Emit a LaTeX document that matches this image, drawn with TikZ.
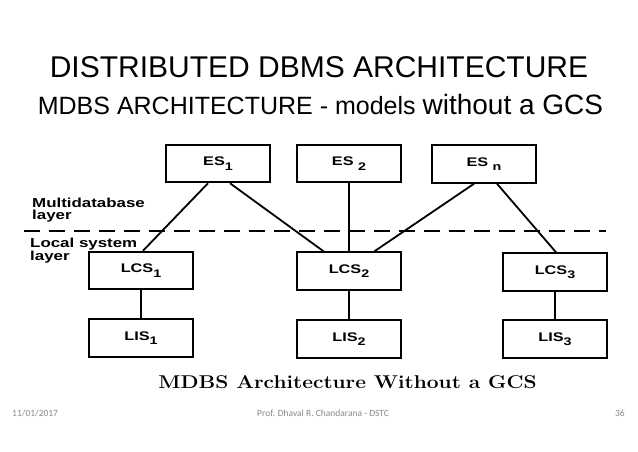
\documentclass[tikz,border=0pt]{standalone}
\usepackage{fontspec}
\newfontfamily\arial{Liberation Sans}
\newfontfamily\widesans[FakeStretch=1.3]{Liberation Sans}
\newfontfamily\carlito{Carlito}
\usetikzlibrary{calc}
\definecolor{footgray}{RGB}{137,137,137}
\newcommand\lowsub[1]{\raisebox{-0.35em}{\fontsize{11}{11}\selectfont #1}}
\begin{document}
\begin{tikzpicture}[x=1pt,y=-1pt,
  box/.style={draw, line width=2pt, minimum width=104pt, minimum height=37.5pt, inner sep=0pt,
    font=\widesans\bfseries\fontsize{12.5}{12.5}\selectfont},
  link/.style={line width=1.8pt},
  lbl/.style={inner sep=0pt, align=left, font=\widesans\bfseries\fontsize{13}{12}\selectfont},
  foot/.style={inner sep=0pt, text=footgray, font=\carlito\fontsize{9.5}{9.5}\selectfont}]
\path[use as bounding box] (0,0) rectangle (638,451);
\fill[white] (0,0) rectangle (638,451);
% titles
\node[anchor=base, inner sep=0pt] (t1) at (319,77) {\arial\fontsize{30}{30}\selectfont DISTRIBUTED DBMS ARCHITECTURE};
\node[anchor=base, inner sep=0pt] (t2) at (320.5,114) {\arial\fontsize{25}{25}\selectfont MDBS ARCHITECTURE - models \fontsize{28}{28}\selectfont without a GCS};
% boxes
\node[box] (es1) at (218,163.5) {ES\lowsub{1}};
\node[box] (es2) at (349,163.5) {ES \lowsub{2}};
\node[box] (esn) at (484,164) {ES \lowsub{n}};
\node[box] (lcs1) at (141,270.5) {LCS\lowsub{1}};
\node[box] (lcs2) at (349,271) {LCS\lowsub{2}};
\node[box] (lcs3) at (555,272) {LCS\lowsub{3}};
\node[box] (lis1) at (141,338) {LIS\lowsub{1}};
\node[box] (lis2) at (349,339) {LIS\lowsub{2}};
\node[box] (lis3) at (555,339) {LIS\lowsub{3}};
% connectors
\draw[link] ([xshift=-10pt]es1.south) -- ([xshift=2pt]lcs1.north);
\draw[link] ([xshift=12pt]es1.south) -- ([xshift=-25.5pt]lcs2.north);
\draw[link] (es2.south) -- (lcs2.north);
\draw[link] ([xshift=-10pt]esn.south) -- ([xshift=25.5pt]lcs2.north);
\draw[link] ([xshift=13pt]esn.south) -- ([xshift=1pt]lcs3.north);
\draw[link] (lcs1.south) -- (lis1.north);
\draw[link] (lcs2.south) -- (lis2.north);
\draw[link] (lcs3.south) -- (lis3.north);
% layer divider
\coordinate (d1) at (24,231);
\coordinate (d2) at (606,231);
\draw[link, dash pattern=on 16pt off 9pt] (d1) -- (d2);
\node[lbl, anchor=north west] (ml) at (32,197.5) {Multidatabase\\layer};
\node[lbl, anchor=north west] (ll) at (30,237.5) {Local system\\layer};
% caption
\node[anchor=base, inner sep=0pt] (cap) at (347.5,388) {\scalebox{1.13}[1]{\rmfamily\bfseries\fontsize{18.5}{18.5}\selectfont MDBS Architecture Without a GCS}};
% footer
\node[foot, anchor=base west] (date) at (12,416) {11/01/2017};
\node[foot, anchor=base west] (auth) at (257,416) {Prof. Dhaval R. Chandarana - DSTC};
\node[foot, anchor=base east] (pg) at (625,416) {36};
\end{tikzpicture}
\end{document}
